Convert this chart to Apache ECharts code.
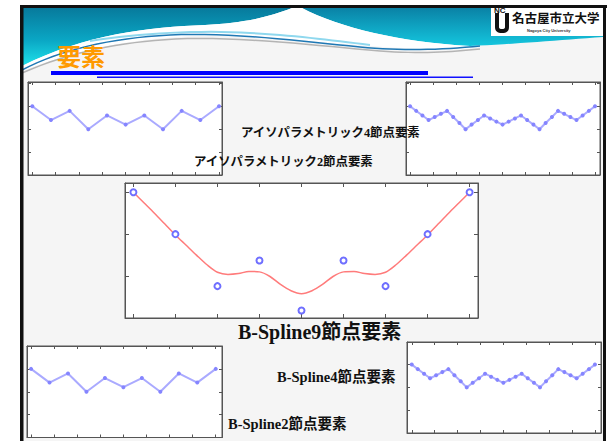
<!DOCTYPE html>
<html><head><meta charset="utf-8">
<script src="https://cdn.jsdelivr.net/npm/echarts@6/dist/echarts.min.js"></script>
<style>html,body{margin:0;padding:0;background:#fff}#c{width:612px;height:441px}</style>
</head><body><div id="c"></div>
<script>
// ---- data ----
const nodeIndex = [0,1,2,3,4,5,6,7,8,9,10];
const nodeValues = [3.0,2.4,2.8,2.0,2.6,2.2,2.6,2.0,2.8,2.4,3.0];
const denseIndex = [0,0.33,0.67,1,1.33,1.67,2,2.33,2.67,3,3.33,3.67,4,4.33,4.67,5,5.33,5.67,6,6.33,6.67,7,7.33,7.67,8,8.33,8.67,9,9.33,9.67,10];
const denseValues = [3.0,2.8,2.6,2.4,2.53,2.67,2.8,2.53,2.27,2.0,2.2,2.4,2.6,2.47,2.33,2.2,2.33,2.47,2.6,2.4,2.2,2.0,2.27,2.53,2.8,2.67,2.53,2.4,2.6,2.8,3.0];
const splineNodeX = [0,1,2,3,4,5,6,7,8];
const splineNodeY = [3.0,2.0,0.76,1.37,0.18,1.37,0.76,2.0,3.0];
const curveX = [0,0.25,0.5,0.75,1,1.25,1.5,1.75,2,2.25,2.5,2.75,3,3.25,3.5,3.75,4,4.25,4.5,4.75,5,5.25,5.5,5.75,6,6.25,6.5,6.75,7,7.25,7.5,7.75,8];
const curveY = [3.0,2.75,2.5,2.24,1.98,1.74,1.5,1.27,1.09,1.04,1.06,1.11,1.10,0.99,0.80,0.65,0.58,0.65,0.80,0.99,1.10,1.11,1.06,1.04,1.09,1.27,1.5,1.74,1.98,2.24,2.5,2.75,3.0];
const smallTicksX = [0,1.25,2.5,3.75,5,6.25,7.5,8.75,10];
const smallTicksY = [0,1,2,3,4];
const bigTicksX = [0,1,2,3,4,5,6,7,8];
const bigTicksY = [0,1,2,3];
const titleText = '要素';
const uniName = '名古屋市立大学';
const uniNameEn = 'Nagoya City University';
const labelIso4 = 'アイソパラメトリック4節点要素';
const labelIso2 = 'アイソパラメトリック2節点要素';
const labelBs9 = 'B-Spline9節点要素';
const labelBs4 = 'B-Spline4節点要素';
const labelBs2 = 'B-Spline2節点要素';

// ---- layout ----
const panels = [
  {rect:[28,82,194,93], x:[-0.23,10.16], y:[0,4.06], xt:smallTicksX, yt:smallTicksY, tl:3},
  {rect:[406,82,194,93], x:[-0.22,10.27], y:[0,4.06], xt:smallTicksX, yt:smallTicksY, tl:3},
  {rect:[125,183,353,135], x:[-0.2,8.2], y:[0,3.22], xt:bigTicksX, yt:bigTicksY, tl:4},
  {rect:[27,346,195,91.5], x:[-0.22,10.34], y:[0,4.0], xt:smallTicksX, yt:smallTicksY, tl:3},
  {rect:[407,342,194,91], x:[-0.26,10.33], y:[0,3.99], xt:smallTicksX, yt:smallTicksY, tl:3}
];
const grid=[], xAxis=[], yAxis=[];
const axColor = '#555';
function ax(i, pos, mn, mx, ticks, tl){
  return {type:'value', gridIndex:i, position:pos, min:mn, max:mx,
    axisLine:{show:true, onZero:false, lineStyle:{color:axColor, width:1}},
    axisTick:{show:true, inside:true, length:tl, customValues:ticks, lineStyle:{color:axColor, width:1}},
    axisLabel:{show:false}, splitLine:{show:false}};
}
panels.forEach((p,i)=>{
  grid.push({left:p.rect[0], top:p.rect[1], width:p.rect[2], height:p.rect[3], show:true, backgroundColor:'#ffffff', borderColor:axColor, borderWidth:1});
  xAxis.push(ax(i,'bottom',p.x[0],p.x[1],p.xt,p.tl));
  xAxis.push(ax(i,'top',p.x[0],p.x[1],p.xt,p.tl));
  yAxis.push(ax(i,'left',p.y[0],p.y[1],p.yt,p.tl));
  yAxis.push(ax(i,'right',p.y[0],p.y[1],p.yt,p.tl));
});
const zip=(a,b)=>a.map((v,i)=>[v,b[i]]);
const lineStyleSmall = {color:'#aaaaff', width:2};
const itemSmall = {color:'#8585ff'};
const series = [
  {type:'line', xAxisIndex:0, yAxisIndex:0, data:zip(nodeIndex,nodeValues), symbol:'circle', symbolSize:4, lineStyle:lineStyleSmall, itemStyle:itemSmall},
  {type:'line', xAxisIndex:2, yAxisIndex:2, data:zip(denseIndex,denseValues), symbol:'circle', symbolSize:4, lineStyle:lineStyleSmall, itemStyle:itemSmall},
  {type:'line', xAxisIndex:4, yAxisIndex:4, data:zip(curveX,curveY), smooth:0.3, showSymbol:false, symbol:'none', lineStyle:{color:'#ff7b7b', width:1.5}, z:3},
  {type:'line', xAxisIndex:4, yAxisIndex:4, data:zip(splineNodeX,splineNodeY), symbol:'emptyCircle', showSymbol:true, symbolSize:6, lineStyle:{width:0, opacity:0}, itemStyle:{color:'#6f6fff', borderColor:'#6f6fff', borderWidth:1.6}, z:4},
  {type:'line', xAxisIndex:6, yAxisIndex:6, data:zip(nodeIndex,nodeValues), symbol:'circle', symbolSize:4, lineStyle:lineStyleSmall, itemStyle:itemSmall},
  {type:'line', xAxisIndex:8, yAxisIndex:8, data:zip(denseIndex,denseValues), symbol:'circle', symbolSize:4, lineStyle:lineStyleSmall, itemStyle:itemSmall}
];

// ---- decoration geometry helper (cubic/quad segments -> points) ----
function pts(cmds){
  const out=[]; let cx=0, cy=0;
  cmds.forEach(c=>{
    if(c[0]==='M'||c[0]==='L'){ cx=c[1]; cy=c[2]; out.push([cx,cy]); }
    else if(c[0]==='C'){
      const [_,x1,y1,x2,y2,x,y]=c;
      for(let k=1;k<=16;k++){ const t=k/16, u=1-t;
        out.push([u*u*u*cx+3*u*u*t*x1+3*u*t*t*x2+t*t*t*x, u*u*u*cy+3*u*u*t*y1+3*u*t*t*y2+t*t*t*y]); }
      cx=x; cy=y;
    } else if(c[0]==='Q'){
      const [_,x1,y1,x,y]=c;
      for(let k=1;k<=8;k++){ const t=k/8, u=1-t;
        out.push([u*u*cx+2*u*t*x1+t*t*x, u*u*cy+2*u*t*y1+t*t*y]); }
      cx=x; cy=y;
    }
  });
  return out;
}
const serifJP = '"Liberation Serif","Noto Sans CJK JP",serif';
const sansJP = '"Noto Sans CJK JP",sans-serif';
function txt(x,y,t,size){
  return {type:'text', z:20, style:{x:x, y:y, text:t, fill:'#111', font:'bold '+size+'px '+serifJP, verticalAlign:'middle', align:'left'}};
}
const LG = echarts.graphic.LinearGradient;
const graphic = {elements:[
  {type:'rect', z:-5, shape:{x:22,y:6,width:583,height:435}, style:{fill:'#f5f5f5'}},
  {type:'polygon', z:-4, shape:{points:pts([['M',22,8],['L',292,8],['C',268,17,245,23,205,25],['C',150,27,85,34,22,66]])},
    style:{fill:new LG(0,0,0,1,[{offset:0,color:'#077a9c'},{offset:0.55,color:'#0aa6c4'},{offset:1,color:'#1ee2ea'}])}},
  {type:'polygon', z:-4, shape:{points:pts([['M',302,8],['L',603,8],['L',603,37],['C',560,40,515,44,470,46],['C',400,42,340,28,302,8]])},
    style:{fill:new LG(0,0,0,1,[{offset:0,color:'#0a82a6'},{offset:1,color:'#14c6de'}])}},
  {type:'polygon', z:-3, shape:{points:pts([['M',22,66],['C',85,34,150,27,205,25],['C',245,23,268,17,292,8],['L',302,8],['C',340,28,400,42,470,46],['L',470,49],['C',400,51,330,42,260,37],['C',180,32,100,40,22,71]])}, style:{fill:'#ffffff'}},
  {type:'polyline', z:-2, shape:{points:pts([['M',22,73],['C',70,52,120,42,175,39],['C',240,36,320,46,380,51],['C',420,54,450,52,480,49]])}, style:{fill:'none', stroke:'#b4b4b4', lineWidth:1.5}},
  {type:'polyline', z:-2, shape:{points:pts([['M',90,41],['C',140,33,200,30,250,33],['C',290,35,330,40,370,45]])}, style:{fill:'none', stroke:'#8fd8ee', lineWidth:2}},
  {type:'polyline', z:-2, shape:{points:pts([['M',22,70],['C',60,50,110,38,170,35],['C',230,32,300,41,360,47],['C',400,51,440,50,480,46]])}, style:{fill:'none', stroke:'#1f78b4', lineWidth:1.5}},
  {type:'rect', z:-1, shape:{x:491,y:7,width:113,height:29}, style:{fill:'#ffffff'}},
  {type:'polygon', z:-1, shape:{points:pts([['M',495,13],['L',495,27],['Q',495,33,502,33],['Q',509,33,509,27],['L',509,13],['L',505,13],['L',505,27],['Q',505,29,502,29],['Q',499,29,499,27],['L',499,13]])}, style:{fill:'#111'}},
  {type:'text', z:-1, style:{x:494, y:10, text:'NC', fill:'#111', font:'bold 8px "Liberation Sans",sans-serif', verticalAlign:'middle'}},
  {type:'text', z:-1, style:{x:512, y:17, text:uniName, fill:'#111', font:'bold 12.5px '+sansJP, verticalAlign:'middle'}},
  {type:'text', z:-1, style:{x:527, y:30, text:uniNameEn, fill:'#333', font:'bold 4px "Liberation Sans",sans-serif', verticalAlign:'middle'}},
  {type:'text', z:-1, style:{x:57, y:55, text:titleText, fill:'#ff9a00', font:'bold 24px '+sansJP, verticalAlign:'middle'}},
  {type:'rect', z:-1, shape:{x:51,y:71,width:377,height:4}, style:{fill:'#0000ff'}},
  {type:'rect', z:-1, shape:{x:97,y:76.5,width:376,height:1.5}, style:{fill:'#1010ff'}},
  txt(241,133,labelIso4,12.4),
  txt(194,162,labelIso2,12.4),
  txt(238,331.5,labelBs9,20),
  txt(277,377,labelBs4,14.5),
  txt(228,423.5,labelBs2,14.5),
  {type:'rect', z:30, shape:{x:20,y:5,width:587,height:3}, style:{fill:'#111'}},
  {type:'rect', z:30, shape:{x:20,y:5,width:3.5,height:436}, style:{fill:'#111'}},
  {type:'rect', z:30, shape:{x:603,y:5,width:3,height:436}, style:{fill:'#111'}}
]};
const chart = echarts.init(document.getElementById('c'), null, {renderer:'svg'});
chart.setOption({animation:false, backgroundColor:'#ffffff', grid, xAxis, yAxis, series, graphic});
</script></body></html>
